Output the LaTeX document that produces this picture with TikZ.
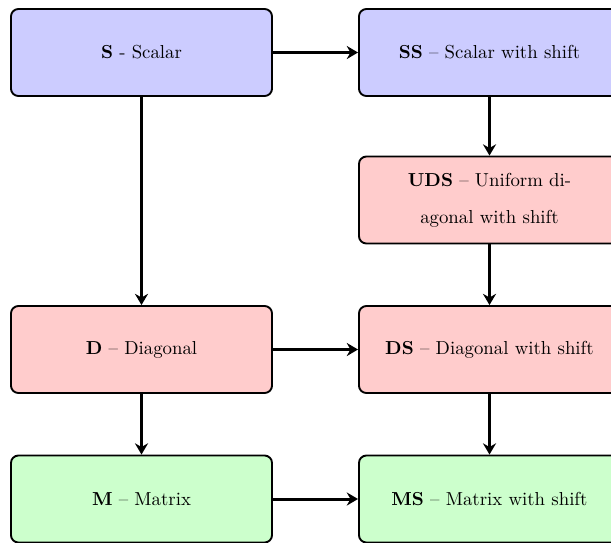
\documentclass[tikz,border=0pt]{standalone}
\usetikzlibrary{arrows.meta}
\begin{document}
\begin{tikzpicture}[x=0.532pt,y=-0.532pt,
  box/.style={draw=black,line width=1pt,rounded corners=4pt,minimum width=138.9pt,minimum height=46.3pt,align=center,inner sep=2pt},
  bluebox/.style={box,fill=blue!20},
  redbox/.style={box,fill=red!20},
  greenbox/.style={box,fill=green!20},
  conn/.style={line width=1.6pt,-{Stealth[length=6pt,width=7pt,inset=2pt]}}]
\useasboundingbox (0,0) rectangle (611,542);
\node[bluebox] (S) at (141.5,52.5) {\textbf{S} - Scalar};
\node[bluebox] (SS) at (489.5,52.5) {\textbf{SS} -- Scalar with shift};
\node[redbox] (UDS) at (489.5,200) {\textbf{UDS} -- Uniform di-\\[7.7pt]agonal with shift};
\node[redbox] (D) at (141.5,349.5) {\textbf{D} -- Diagonal};
\node[redbox] (DS) at (489.5,349.5) {\textbf{DS} -- Diagonal with shift};
\node[greenbox] (M) at (141.5,499) {\textbf{M} -- Matrix};
\node[greenbox] (MS) at (489.5,499) {\textbf{MS} -- Matrix with shift};
\draw[conn] (S) -- (SS);
\draw[conn] (S) -- (D);
\draw[conn] (SS) -- (UDS);
\draw[conn] (UDS) -- (DS);
\draw[conn] (D) -- (DS);
\draw[conn] (D) -- (M);
\draw[conn] (DS) -- (MS);
\draw[conn] (M) -- (MS);
\end{tikzpicture}
\end{document}
